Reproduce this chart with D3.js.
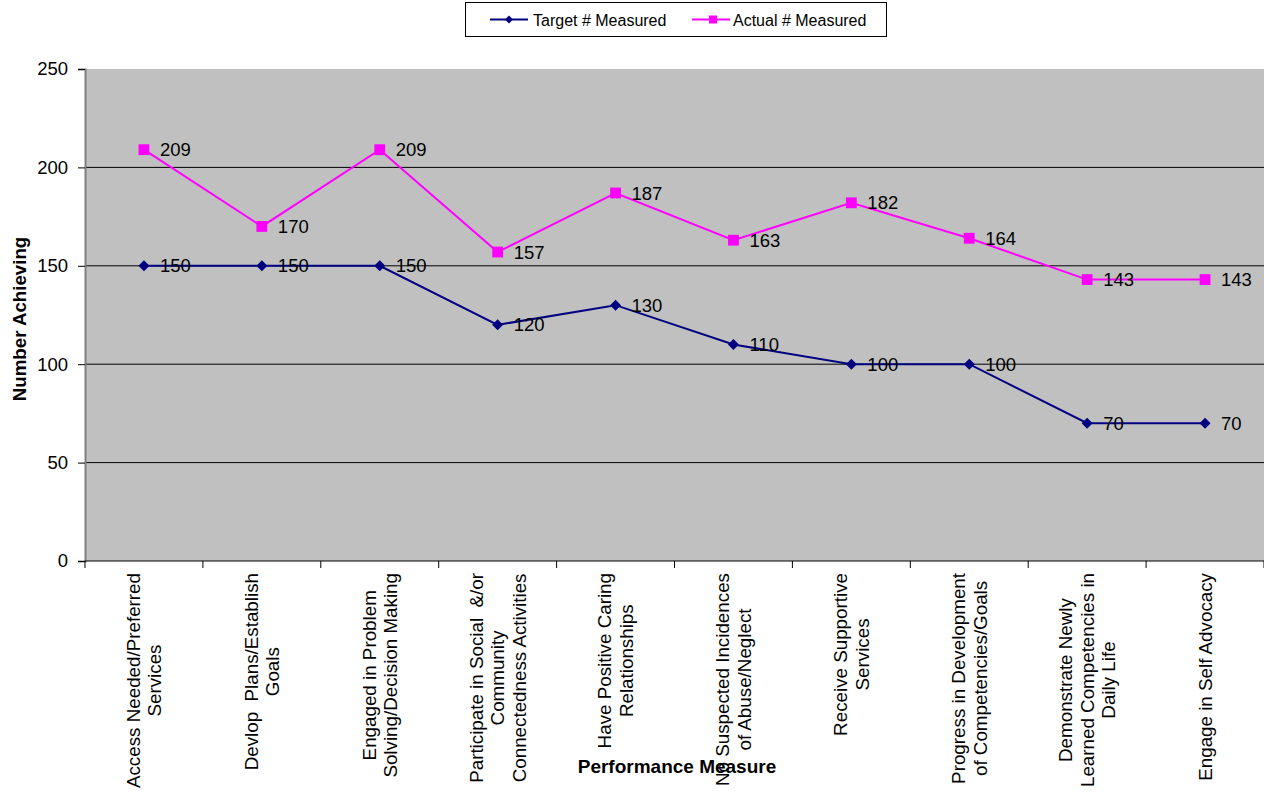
<!DOCTYPE html>
<html><head><meta charset="utf-8">
<script src="https://cdn.jsdelivr.net/npm/d3@7"></script>
<style>body{margin:0;background:#fff}svg{display:block;font-family:"Liberation Sans",Arial,sans-serif}</style>
</head><body><svg id="c" width="1264" height="796"></svg>
<script>
const categories = [
  ["Access Needed/Preferred","Services"],
  ["Devlop  Plans/Establish","Goals"],
  ["Engaged in Problem","Solving/Decision Making"],
  ["Participate in Social  &/or","Community","Connectedness Activities"],
  ["Have Positive Caring","Relationships"],
  ["No Suspected Incidences","of Abuse/Neglect"],
  ["Receive Supportive","Services"],
  ["Progress in Development","of Competencies/Goals"],
  ["Demonstrate Newly","Learned Competencies in","Daily Life"],
  ["Engage in Self Advocacy"]
];
const targetValues = [150,150,150,120,130,110,100,100,70,70];
const actualValues = [209,170,209,157,187,163,182,164,143,143];
const yTicks = [0,50,100,150,200,250];
const seriesNames = ["Target # Measured","Actual # Measured"];

const svg = d3.select("#c");
const L = 85, R = 1264, T = 69, B = 561;
const x = d3.scaleBand().domain(d3.range(categories.length)).range([L,R]).padding(0);
const y = d3.scaleLinear().domain([0,250]).range([B,T]);
const cx = i => x(i) + x.bandwidth()/2;

svg.append("rect").attr("x",L).attr("y",T).attr("width",R-L).attr("height",B-T).attr("fill","#c0c0c0");
// gridlines
svg.append("g").selectAll("line").data(yTicks.filter(d=>d>0 && d<250)).join("line")
  .attr("x1",L).attr("x2",R).attr("y1",d=>y(d)).attr("y2",d=>y(d)).attr("stroke","#000").attr("stroke-width",1);

// y axis
const ya = svg.append("g").attr("transform",`translate(${L},0)`)
  .call(d3.axisLeft(y).tickValues(yTicks).tickSize(7).tickPadding(10));
ya.select(".domain").attr("stroke","#808080").attr("stroke-width",2);
ya.selectAll(".tick line").attr("stroke","#000");
ya.selectAll("text").attr("font-size",18.5).attr("font-family","Liberation Sans, Arial, sans-serif").attr("fill","#000");

// x axis line and boundary ticks
svg.append("line").attr("x1",L).attr("x2",R).attr("y1",B).attr("y2",B).attr("stroke","#000").attr("stroke-width",1);
svg.append("g").selectAll("line").data(d3.range(categories.length+1)).join("line")
  .attr("x1",i=>L+i*x.step()).attr("x2",i=>L+i*x.step()).attr("y1",B).attr("y2",B+7).attr("stroke","#000");

// category labels
const fs = 18.8, lh = 21.5;
const lab = svg.append("g");
categories.forEach((lines,i)=>{
  const g = lab.append("g").attr("transform",`translate(${cx(i)},573) rotate(-90)`);
  const n = lines.length;
  const t = g.append("text").attr("font-size",fs).attr("fill","#000").attr("text-anchor","middle").style("white-space","pre");
  lines.forEach((ln,j)=>{
    t.append("tspan").attr("x",0).attr("y",(j-(n-1)/2)*lh + fs*0.35).text(ln);
  });
  const w = d3.max(t.selectAll("tspan").nodes(),nd=>nd.getComputedTextLength());
  t.selectAll("tspan").attr("x",-w/2);
});

// lines
const line = d3.line().x((d,i)=>cx(i)).y(d=>y(d));
svg.append("path").datum(targetValues).attr("d",line).attr("fill","none").attr("stroke","#000080").attr("stroke-width",2);
svg.append("path").datum(actualValues).attr("d",line).attr("fill","none").attr("stroke","#ff00ff").attr("stroke-width",2);

const diamond = (g,px,py,s)=>g.append("path").attr("d",`M${px},${py-s}L${px+s},${py}L${px},${py+s}L${px-s},${py}Z`).attr("fill","#000080");
const square = (g,px,py,s)=>g.append("rect").attr("x",px-s).attr("y",py-s).attr("width",2*s).attr("height",2*s).attr("fill","#ff00ff");

const mk = svg.append("g");
targetValues.forEach((v,i)=>diamond(mk,cx(i),y(v),5.5));
actualValues.forEach((v,i)=>square(mk,cx(i),y(v),5.4));

// data labels
const dl = svg.append("g").attr("font-size",18.5).attr("fill","#000");
targetValues.forEach((v,i)=>dl.append("text").attr("x",cx(i)+16).attr("y",y(v)+6.6).text(v));
actualValues.forEach((v,i)=>dl.append("text").attr("x",cx(i)+16).attr("y",y(v)+6.6).text(v));

// axis titles
svg.append("text").attr("transform",`translate(26,${(T+B)/2+4}) rotate(-90)`).attr("text-anchor","middle")
  .attr("font-size",18.7).attr("font-weight","bold").text("Number Achieving");
svg.append("text").attr("x",677).attr("y",773).attr("text-anchor","middle")
  .attr("font-size",19).attr("font-weight","bold").text("Performance Measure");

// legend
const lg = svg.append("g");
lg.append("rect").attr("x",465.5).attr("y",2.5).attr("width",421).attr("height",34).attr("fill","#fff").attr("stroke","#000");
lg.append("line").attr("x1",490).attr("x2",528).attr("y1",19.5).attr("y2",19.5).attr("stroke","#000080").attr("stroke-width",2);
diamond(lg,509,19.5,4);
lg.append("text").attr("x",533).attr("y",25.5).attr("font-size",16).text(seriesNames[0]);
lg.append("line").attr("x1",692).attr("x2",730).attr("y1",19.5).attr("y2",19.5).attr("stroke","#ff00ff").attr("stroke-width",2);
square(lg,713,19.5,4);
lg.append("text").attr("x",733).attr("y",25.5).attr("font-size",16).text(seriesNames[1]);
</script></body></html>
